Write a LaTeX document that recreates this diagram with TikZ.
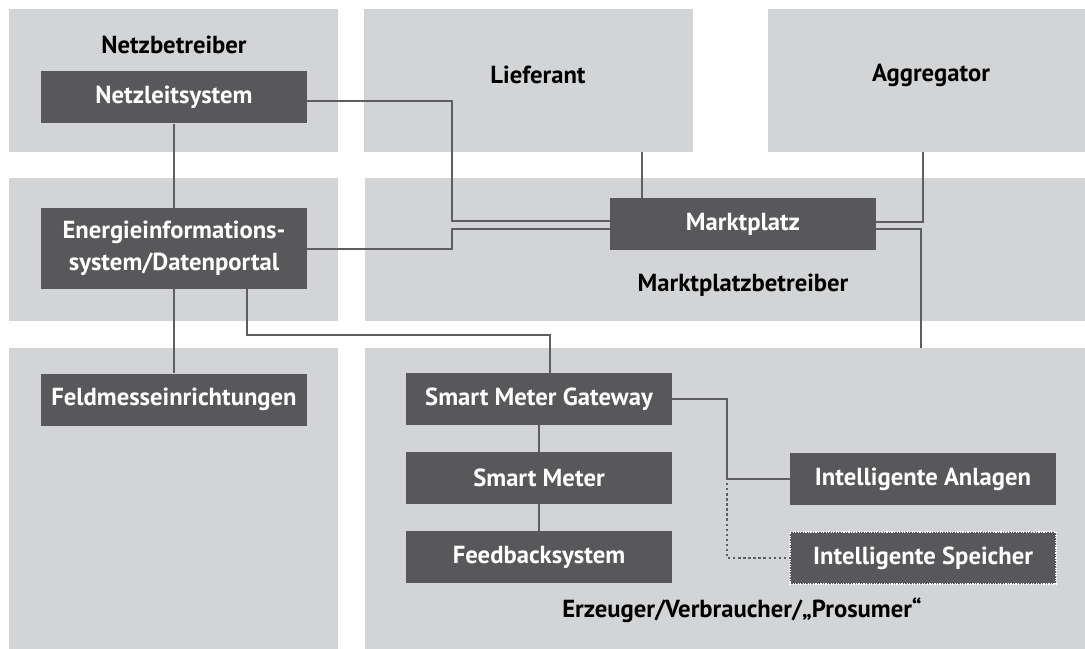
\documentclass[tikz,border=0pt]{standalone}
\usepackage{fontspec}
\setmainfont{PT Sans}
\usepackage{tikz}
\definecolor{panelgray}{HTML}{D3D4D6}
\definecolor{boxgray}{HTML}{58585A}
\definecolor{linegray}{HTML}{5E5E60}

\begin{document}
\begin{tikzpicture}
[x=0.75pt, y=-0.75pt,
 every node/.style={inner sep=0pt, font=\bfseries\fontsize{18.5}{24}\selectfont},
 sysbox/.style={rectangle, fill=boxgray, text=white, minimum width=199.5pt, minimum height=39pt, align=center},
 partlabel/.style={text=black},
 link/.style={line width=2pt, color=linegray},
 optlink/.style={line width=1.8pt, color=linegray, dotted}]
\useasboundingbox (0,0) rectangle (1085,649);
\fill [panelgray] (9,9) rectangle (338,152);
\fill [panelgray] (9,178) rectangle (338,321);
\fill [panelgray] (9,348) rectangle (338,649);
\fill [panelgray] (364,9) rectangle (693,152);
\fill [panelgray] (768,9) rectangle (1085,152);
\fill [panelgray] (365,178) rectangle (1085,321);
\fill [panelgray] (365,348) rectangle (1085,649);
\node (netzbetreiber) [partlabel] at (174,45) {Netzbetreiber};
\node (lieferant) [partlabel] at (538,75) {Lieferant};
\node (aggregator) [partlabel] at (931,75) {Aggregator};
\node (marktbetreiber) [partlabel] at (743,285) {Marktplatzbetreiber};
\node (prosumer) [partlabel] at (742,610) {Erzeuger/Verbraucher/„Prosumer“};
\node (nls) [sysbox] at (174,97.5) {Netzleitsystem};
\node (eis) [sysbox, minimum height=60pt] at (174,248.5) {Energieinformations-\\system/Datenportal};
\node (fme) [sysbox] at (174,399.5) {Feldmesseinrichtungen};
\node (mkt) [sysbox] at (743,224) {Marktplatz};
\node (smg) [sysbox] at (539,399) {Smart Meter Gateway};
\node (sm) [sysbox] at (539,478) {Smart Meter};
\node (fbs) [sysbox] at (539,557) {Feedbacksystem};
\node (ian) [sysbox] at (923,479) {Intelligente Anlagen};
\node (isp) [sysbox, draw=white, densely dotted, line width=0.9pt] at (923,558) {Intelligente Speicher};
\coordinate (lief end) at (642,152);
\coordinate (aggr end) at (923,152);
\coordinate (pros end) at (921,348);
\draw [link] (nls) -- (eis);
\draw [link] (eis) -- (fme);
\draw [link] (smg) -- (sm);
\draw [link] (sm) -- (fbs);
\draw [link] (eis.south -| 247,0) -- (247,335) -- (550,335) -- (smg.north -| 550,0);
\draw [link] (nls.east |- 0,101) -- (452,101) -- (452,221) -- (mkt.west |- 0,221);
\draw [link] (eis.east |- 0,249) -- (452,249) -- (452,229) -- (mkt.west |- 0,229);
\draw [link] (lief end) -- (mkt.north -| lief end);
\draw [link] (mkt.east |- 0,222) -- (aggr end |- 0,222) -- (aggr end);
\draw [link] (mkt.east |- 0,229) -- (pros end |- 0,229) -- (pros end);
\draw [link] (smg.east |- 0,399) -- (727,399) -- (727,479) -- (ian.west |- 0,479);
\draw [optlink] (727,483) -- (727,558) -- (isp.west |- 0,558);
\end{tikzpicture}
\end{document}
